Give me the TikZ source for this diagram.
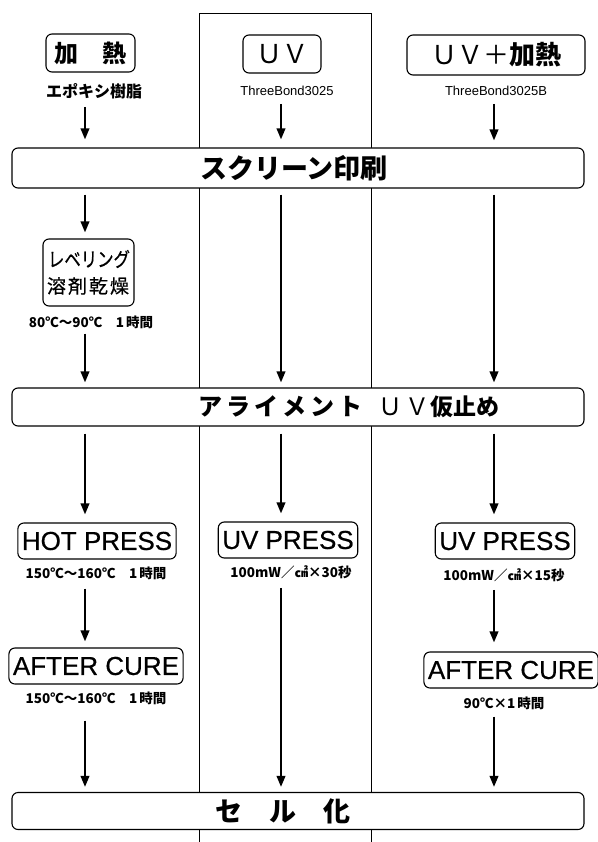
\documentclass[tikz,border=0pt]{standalone}
\usepackage{fontspec}
\setmainfont{Noto Sans CJK JP}
\newfontfamily\latf{Liberation Sans}[FakeBold=0.5]
\newfontfamily\latr{Liberation Sans}
\newfontfamily\jpm{Noto Sans CJK JP}[FakeBold=0.6]
\usetikzlibrary{arrows.meta}
\def\myspk{0pt}
\newcommand\spaced[2]{\def\myspk{#1}\myspA#2\relax}
\def\myspA#1{#1\futurelet\mynext\myspB}
\def\myspB{\ifx\mynext\relax\expandafter\mygobble\else\kern\myspk\relax\expandafter\myspA\fi}
\def\mygobble#1{}
\newcommand\fs[1]{\fontsize{#1}{#1}\selectfont}
\begin{document}
\begin{tikzpicture}[x=1pt,y=-1pt,
  box/.style={draw,line width=1.1pt,rounded corners=6pt,fill=white,inner sep=0pt},
  pbox/.style={draw,line width=1.1pt,rounded corners=6pt,fill=white,inner xsep=4pt,inner ysep=0pt,minimum height=36pt,font=\latf\fs{26}},
  lbl/.style={inner sep=0pt},
  arr/.style={line width=2.1pt,-{Triangle[length=11pt,width=8.5pt]}}]
\useasboundingbox (0,0) rectangle (597,842);
\fill[white] (0,0) rectangle (597,842);
\draw[line width=1pt] (199,842) -- (199,14) -- (371,14) -- (371,842);
\coordinate (cL) at (85,0);
\coordinate (cM) at (281,0);
\coordinate (cR) at (494,0);
% top row
\node[box,minimum width=89pt,minimum height=38pt] (kan) at (90.5,53) {\fs{24}\bfseries 加　熱};
\node[box,minimum width=78pt,minimum height=38pt] (uv) at (282,54) {\fs{26}ＵＶ};
\node[box,minimum width=178pt,minimum height=40pt] (uvkan) at (496,55) {\fs{26}ＵＶ＋\bfseries 加熱};
\node[lbl] (epo) at (94,91) {\fs{16}\bfseries エポキシ樹脂};
\node[lbl] (tb1) at (287,91) {\latr\fs{13}ThreeBond3025};
\node[lbl] (tb2) at (496,91) {\latr\fs{13}ThreeBond3025B};
% screen printing
\node[box,minimum width=572pt,minimum height=40pt] (scr) at (298,168) {};
\node[lbl] (scrt) at (294,168) {\fs{27}\bfseries スクリーン印刷};
% leveling
\node[box,minimum width=91pt,minimum height=67pt] (lev) at (88.5,272.5) {};
\node[lbl] (lev1) at (89,259) {\jpm\fs{20}\scalebox{0.82}[1]{レベリング}};
\node[lbl] (lev2) at (88,286) {\jpm\fs{19}\spaced{2pt}{溶剤乾燥}};
\node[lbl] (t80) at (91,322) {\fs{13.5}\bfseries 80℃～90℃　1\kern2pt 時間};
% alignment
\node[box,minimum width=572pt,minimum height=38pt] (ali) at (298,407) {};
\node[lbl,anchor=west] (alit) at (198,407) {\fs{24}\bfseries\spaced{4pt}{アライメント}\kern16pt{\mdseries\spaced{3pt}{ＵＶ}}\kern1pt{\fs{23}仮止め}};
% press row
\node[pbox] (hot) at (97,541) {HOT PRESS};
\node[pbox] (uvp1) at (288,540) {UV PRESS};
\node[pbox] (uvp2) at (505,541) {UV PRESS};
\node[lbl] (l150a) at (96,573) {\fs{13.5}\bfseries 150℃～160℃　1\kern2pt 時間};
\node[lbl] (l100a) at (291,572) {\fs{13.5}\bfseries 100mW／㎠×30秒};
\node[lbl] (l100b) at (504,575) {\fs{13.5}\bfseries 100mW／㎠×15秒};
% after cure
\node[pbox] (ac1) at (96,666) {AFTER CURE};
\node[pbox] (ac2) at (511,670) {AFTER CURE};
\node[lbl] (l150b) at (96,698) {\fs{13.5}\bfseries 150℃～160℃　1\kern2pt 時間};
\node[lbl] (l90) at (504,703) {\fs{13.5}\bfseries 90℃×1\kern2pt 時間};
% cell
\node[box,minimum width=572pt,minimum height=37pt] (cell) at (298,811) {};
\node[lbl] (cellt) at (283,811) {\fs{27}\bfseries セ　ル　化};
% arrows left
\draw[arr,shorten <=8pt,shorten >=8pt] (epo.south -| cL) -- (scr.north -| cL);
\draw[arr,shorten <=6pt,shorten >=6pt] (scr.south -| cL) -- (lev.north -| cL);
\draw[arr,shorten <=5pt,shorten >=5pt] (t80.south -| cL) -- (ali.north -| cL);
\draw[arr,shorten <=7pt,shorten >=8pt] (ali.south -| cL) -- (hot.north -| cL);
\draw[arr,shorten <=9pt,shorten >=6pt] (l150a.south -| cL) -- (ac1.north -| cL);
\draw[arr,shorten <=16pt,shorten >=5pt] (l150b.south -| cL) -- (cell.north -| cL);
% arrows middle
\draw[arr,shorten <=8pt,shorten >=8pt] (tb1.south -| cM) -- (scr.north -| cM);
\draw[arr,shorten <=6pt,shorten >=5pt] (scr.south -| cM) -- (ali.north -| cM);
\draw[arr,shorten <=7pt,shorten >=8pt] (ali.south -| cM) -- (uvp1.north -| cM);
\draw[arr,shorten <=9pt,shorten >=5pt] (l100a.south -| cM) -- (cell.north -| cM);
% arrows right
\draw[arr,shorten <=8pt,shorten >=7pt] (tb2.south -| cR) -- (scr.north -| cR);
\draw[arr,shorten <=6pt,shorten >=5pt] (scr.south -| cR) -- (ali.north -| cR);
\draw[arr,shorten <=7pt,shorten >=8pt] (ali.south -| cR) -- (uvp2.north -| cR);
\draw[arr,shorten <=8pt,shorten >=9pt] (l100b.south -| cR) -- (ac2.north -| cR);
\draw[arr,shorten <=7pt,shorten >=5pt] (l90.south -| cR) -- (cell.north -| cR);
\end{tikzpicture}
\end{document}
